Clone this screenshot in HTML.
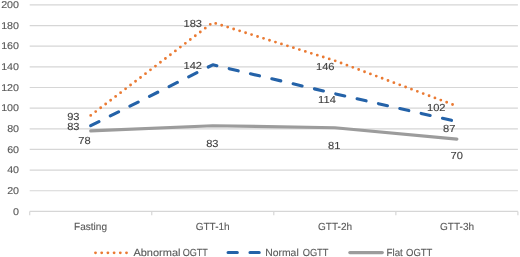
<!DOCTYPE html>
<html><head><meta charset="utf-8"><style>
html,body{margin:0;padding:0;background:#fff;}
svg{display:block;will-change:transform;}
text{font-family:"Liberation Sans",sans-serif;text-rendering:geometricPrecision;}
</style></head><body>
<svg width="520" height="257" viewBox="0 0 520 257">
<rect width="520" height="257" fill="#fff"/>
<g stroke="#d6d6d6" stroke-width="1.2"><line x1="29.7" x2="517.90" y1="190.75" y2="190.75"/><line x1="29.7" x2="517.90" y1="170.10" y2="170.10"/><line x1="29.7" x2="517.90" y1="149.45" y2="149.45"/><line x1="29.7" x2="517.90" y1="128.80" y2="128.80"/><line x1="29.7" x2="517.90" y1="108.15" y2="108.15"/><line x1="29.7" x2="517.90" y1="87.50" y2="87.50"/><line x1="29.7" x2="517.90" y1="66.85" y2="66.85"/><line x1="29.7" x2="517.90" y1="46.20" y2="46.20"/><line x1="29.7" x2="517.90" y1="25.55" y2="25.55"/><line x1="29.7" x2="517.90" y1="4.90" y2="4.90"/></g>
<g stroke="#d6d6d6" stroke-width="1.2"><line x1="29.7" x2="517.90" y1="211.4" y2="211.4"/><line x1="29.70" x2="29.70" y1="211.4" y2="215.3"/><line x1="151.75" x2="151.75" y1="211.4" y2="215.3"/><line x1="273.80" x2="273.80" y1="211.4" y2="215.3"/><line x1="395.85" x2="395.85" y1="211.4" y2="215.3"/><line x1="517.90" x2="517.90" y1="211.4" y2="215.3"/></g>
<polyline points="90.72,130.87 212.77,125.70 334.82,127.77 456.88,139.12" fill="none" stroke="#9c9c9c" stroke-width="3.13" stroke-linejoin="round" stroke-linecap="round"/>
<polyline points="90.72,125.70 212.77,64.78 334.82,93.70 456.88,121.57" fill="none" stroke="#2462a8" stroke-width="3.13" stroke-linejoin="round" stroke-linecap="round" stroke-dasharray="9.2 12.7"/>
<polyline points="90.72,115.38 212.77,22.45 334.82,60.66 456.88,106.09" fill="none" stroke="#ea7a33" stroke-width="2.85" stroke-linejoin="round" stroke-linecap="round" stroke-dasharray="0 6.26"/>
<line x1="95.5" x2="126.6" y1="252.8" y2="252.8" stroke="#ea7a33" stroke-width="2.85" stroke-linecap="round" stroke-dasharray="0 6.2"/>
<line x1="228.1" x2="259.9" y1="252.5" y2="252.5" stroke="#2462a8" stroke-width="3.13" stroke-linecap="round" stroke-dasharray="9.2 12.7"/>
<line x1="349.8" x2="382.3" y1="252.6" y2="252.6" stroke="#9c9c9c" stroke-width="3.13" stroke-linecap="round"/>
<text x="13.01" y="214.58" font-size="9.85" fill="#595959" stroke="#595959" stroke-width="0.12" textLength="5.98" lengthAdjust="spacingAndGlyphs">0</text>
<text x="7.16" y="193.93" font-size="9.85" fill="#595959" stroke="#595959" stroke-width="0.12" textLength="11.94" lengthAdjust="spacingAndGlyphs">20</text>
<text x="7.16" y="173.28" font-size="9.85" fill="#595959" stroke="#595959" stroke-width="0.12" textLength="11.94" lengthAdjust="spacingAndGlyphs">40</text>
<text x="7.16" y="152.63" font-size="9.85" fill="#595959" stroke="#595959" stroke-width="0.12" textLength="11.94" lengthAdjust="spacingAndGlyphs">60</text>
<text x="7.16" y="131.98" font-size="9.85" fill="#595959" stroke="#595959" stroke-width="0.12" textLength="11.94" lengthAdjust="spacingAndGlyphs">80</text>
<text x="1.16" y="111.33" font-size="9.85" fill="#595959" stroke="#595959" stroke-width="0.12" textLength="17.92" lengthAdjust="spacingAndGlyphs">100</text>
<text x="1.16" y="90.68" font-size="9.85" fill="#595959" stroke="#595959" stroke-width="0.12" textLength="17.92" lengthAdjust="spacingAndGlyphs">120</text>
<text x="1.16" y="70.03" font-size="9.85" fill="#595959" stroke="#595959" stroke-width="0.12" textLength="17.92" lengthAdjust="spacingAndGlyphs">140</text>
<text x="1.16" y="49.38" font-size="9.85" fill="#595959" stroke="#595959" stroke-width="0.12" textLength="17.92" lengthAdjust="spacingAndGlyphs">160</text>
<text x="1.16" y="28.73" font-size="9.85" fill="#595959" stroke="#595959" stroke-width="0.12" textLength="17.92" lengthAdjust="spacingAndGlyphs">180</text>
<text x="1.16" y="8.08" font-size="9.85" fill="#595959" stroke="#595959" stroke-width="0.12" textLength="17.92" lengthAdjust="spacingAndGlyphs">200</text>
<text x="74.08" y="229.90" font-size="10.3" fill="#595959" stroke="#595959" stroke-width="0.12" textLength="32.94" lengthAdjust="spacingAndGlyphs">Fasting</text>
<text x="195.66" y="229.90" font-size="10.3" fill="#595959" stroke="#595959" stroke-width="0.12" textLength="34.03" lengthAdjust="spacingAndGlyphs">GTT-1h</text>
<text x="318.06" y="229.90" font-size="10.3" fill="#595959" stroke="#595959" stroke-width="0.12" textLength="34.03" lengthAdjust="spacingAndGlyphs">GTT-2h</text>
<text x="440.06" y="229.90" font-size="10.3" fill="#595959" stroke="#595959" stroke-width="0.12" textLength="34.03" lengthAdjust="spacingAndGlyphs">GTT-3h</text>
<text x="183.48" y="27.10" font-size="10.2" fill="#404040" stroke="#404040" stroke-width="0.12" textLength="18.53" lengthAdjust="spacingAndGlyphs">183</text>
<text x="183.50" y="69.46" font-size="10.2" fill="#404040" stroke="#404040" stroke-width="0.12" textLength="18.53" lengthAdjust="spacingAndGlyphs">142</text>
<text x="67.20" y="119.70" font-size="10.2" fill="#404040" stroke="#404040" stroke-width="0.12" textLength="12.36" lengthAdjust="spacingAndGlyphs">93</text>
<text x="67.20" y="129.90" font-size="10.2" fill="#404040" stroke="#404040" stroke-width="0.12" textLength="12.36" lengthAdjust="spacingAndGlyphs">83</text>
<text x="78.30" y="143.75" font-size="10.2" fill="#404040" stroke="#404040" stroke-width="0.12" textLength="12.36" lengthAdjust="spacingAndGlyphs">78</text>
<text x="206.15" y="146.80" font-size="10.2" fill="#404040" stroke="#404040" stroke-width="0.12" textLength="12.36" lengthAdjust="spacingAndGlyphs">83</text>
<text x="328.05" y="148.50" font-size="10.2" fill="#404040" stroke="#404040" stroke-width="0.12" textLength="12.36" lengthAdjust="spacingAndGlyphs">81</text>
<text x="315.98" y="69.80" font-size="10.2" fill="#404040" stroke="#404040" stroke-width="0.12" textLength="18.53" lengthAdjust="spacingAndGlyphs">146</text>
<text x="318.14" y="103.05" font-size="10.2" fill="#404040" stroke="#404040" stroke-width="0.12" textLength="17.71" lengthAdjust="spacingAndGlyphs">114</text>
<text x="427.00" y="110.75" font-size="10.2" fill="#404040" stroke="#404040" stroke-width="0.12" textLength="18.53" lengthAdjust="spacingAndGlyphs">102</text>
<text x="443.10" y="131.55" font-size="10.2" fill="#404040" stroke="#404040" stroke-width="0.12" textLength="12.36" lengthAdjust="spacingAndGlyphs">87</text>
<text x="450.50" y="158.80" font-size="10.2" fill="#404040" stroke="#404040" stroke-width="0.12" textLength="12.36" lengthAdjust="spacingAndGlyphs">70</text>
<text x="133.40" y="255.50" font-size="10.3" fill="#595959" stroke="#595959" stroke-width="0.12" textLength="47.05" lengthAdjust="spacingAndGlyphs">Abnormal</text>
<text x="182.66" y="255.50" font-size="10.3" fill="#595959" stroke="#595959" stroke-width="0.12" textLength="25.25" lengthAdjust="spacingAndGlyphs">OGTT</text>
<text x="265.22" y="255.50" font-size="10.3" fill="#595959" stroke="#595959" stroke-width="0.12" textLength="33.48" lengthAdjust="spacingAndGlyphs">Normal</text>
<text x="302.65" y="255.50" font-size="10.3" fill="#595959" stroke="#595959" stroke-width="0.12" textLength="25.86" lengthAdjust="spacingAndGlyphs">OGTT</text>
<text x="386.57" y="255.50" font-size="10.3" fill="#595959" stroke="#595959" stroke-width="0.12" textLength="16.27" lengthAdjust="spacingAndGlyphs">Flat</text>
<text x="406.04" y="255.50" font-size="10.3" fill="#595959" stroke="#595959" stroke-width="0.12" textLength="26.38" lengthAdjust="spacingAndGlyphs">OGTT</text>
</svg>
</body></html>
